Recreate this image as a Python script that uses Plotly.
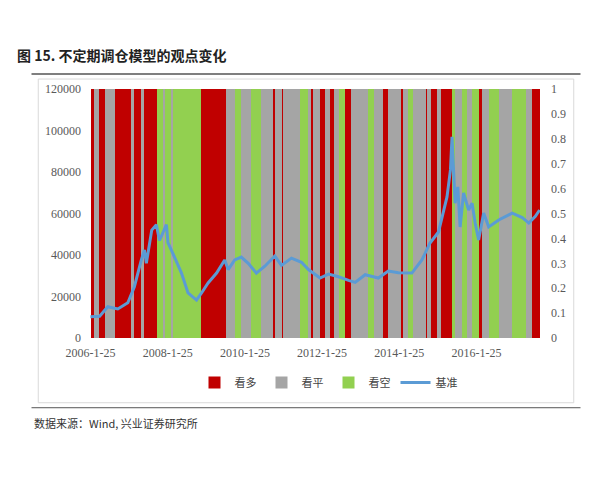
import pandas as pd
import plotly.graph_objects as go

# model view segments: start (decimal year) and view
seg_start = [2006.07, 2006.15, 2006.28, 2006.43, 2006.69, 2007.11, 2007.19, 2007.37, 2007.45,
             2007.78, 2007.94, 2007.99, 2008.15, 2008.20, 2008.93, 2009.58, 2009.81, 2009.97,
             2010.23, 2010.49, 2010.80, 2010.85, 2011.03, 2011.06, 2011.50, 2011.71, 2011.78,
             2011.84, 2012.02, 2012.15, 2012.28, 2012.36, 2012.49, 2012.67, 2012.82, 2013.26,
             2013.40, 2013.65, 2013.76, 2014.12, 2014.17, 2014.30, 2014.43, 2014.75, 2014.77,
             2014.88, 2015.03, 2015.14, 2015.42, 2015.52, 2015.68, 2015.81, 2015.94, 2016.12,
             2016.20, 2016.38, 2016.64, 2016.98, 2017.34, 2017.50]
seg_end = 2017.71
seg_view = ["多", "平", "多", "平", "多", "平", "多", "平", "多",
            "空", "平", "空", "平", "空", "多", "平", "空", "平",
            "空", "平", "多", "平", "多", "平", "空", "平", "多",
            "平", "多", "平", "多", "平", "空", "多", "平", "空",
            "平", "多", "平", "多", "平", "空", "平", "多", "平",
            "多", "平", "多", "空", "平", "空", "平", "空", "多",
            "平", "空", "平", "空", "平", "多"]

# benchmark
bm_year = [2006.06, 2006.30, 2006.51, 2006.77, 2007.03, 2007.20, 2007.38, 2007.46, 2007.51,
           2007.55, 2007.65, 2007.77, 2007.85, 2008.03, 2008.07, 2008.24, 2008.42, 2008.59,
           2008.81, 2008.94, 2009.11, 2009.33, 2009.54, 2009.63, 2009.80, 2009.97, 2010.15,
           2010.36, 2010.58, 2010.84, 2011.01, 2011.27, 2011.53, 2011.71, 2012.01, 2012.23,
           2012.49, 2012.75, 2012.92, 2013.18, 2013.52, 2013.78, 2014.04, 2014.39, 2014.65,
           2014.86, 2015.08, 2015.30, 2015.39, 2015.43, 2015.47, 2015.51, 2015.58, 2015.64,
           2015.73, 2015.86, 2015.95, 2016.03, 2016.12, 2016.25, 2016.38, 2016.64, 2016.99,
           2017.25, 2017.42, 2017.59, 2017.70]
bm_value = [10300, 10500, 15100, 14000, 17000, 24700, 37600, 42400, 36000,
            40000, 52000, 54600, 47000, 54600, 46000, 39000, 31300, 21700,
            18300, 21700, 26500, 31300, 37600, 33000, 37600, 39000, 36000,
            31300, 34600, 39500, 35000, 38500, 36500, 33000, 28900, 30800,
            29500, 27800, 26800, 30500, 28900, 32300, 31500, 31300, 37600,
            45800, 51100, 68000, 81000, 96900, 80000, 65000, 72800, 53500,
            69900, 61700, 65000, 55400, 47200, 60200, 53500, 56900, 60200,
            58000, 55400, 58600, 61700]

tick_labels = ["2006-1-25", "2008-1-25", "2010-1-25", "2012-1-25", "2014-1-25", "2016-1-25"]
right_ticks = [0, 0.1, 0.2, 0.3, 0.4, 0.5, 0.6, 0.7, 0.8, 0.9, 1]


def to_date(y):
    return pd.Timestamp("2006-01-01") + pd.to_timedelta((y - 2006) * 365.25, unit="D")


views = {"多": ("看多", "#C00000"), "平": ("看平", "#A5A5A5"), "空": ("看空", "#92D050")}
ends = seg_start[1:] + [seg_end]

fig = go.Figure()
for key, (name, color) in views.items():
    xs, ws = [], []
    for s, e, v in zip(seg_start, ends, seg_view):
        if v == key:
            xs.append(to_date(s))
            ws.append((to_date(e) - to_date(s)).total_seconds() * 1000)
    fig.add_trace(go.Bar(x=xs, y=[1] * len(xs), width=ws, offset=0, name=name,
                         marker=dict(color=color, line_width=0), yaxis="y"))

fig.add_trace(go.Scatter(x=[to_date(y) for y in bm_year], y=bm_value, name="基准",
                         mode="lines", line=dict(color="#5B9BD5", width=3), yaxis="y2"))

serif = "Liberation Serif, DejaVu Serif, Times New Roman, serif"
tickfont = dict(family=serif, size=12, color="#595959")
fig.update_layout(
    width=600, height=480,
    paper_bgcolor="white", plot_bgcolor="white",
    margin=dict(l=82, r=68, t=81, b=150),
    bargap=0, barmode="overlay",
    font=dict(family=serif, size=12, color="#595959"),
    title=dict(text="<b>图 15. 不定期调仓模型的观点变化</b>", x=0.015, y=0.91, xanchor="left",
               font=dict(family="Noto Sans CJK SC", size=14, color="#222")),
    xaxis=dict(type="date", range=[to_date(2006.05), to_date(seg_end)],
               tickvals=[pd.Timestamp(t) for t in tick_labels], ticktext=tick_labels,
               showgrid=False, ticks="", showline=False, tickfont=tickfont,
               ticklabelstandoff=6),
    yaxis=dict(side="right", range=[0, 1], tickvals=right_ticks,
               ticktext=[str(v) for v in right_ticks], showgrid=False, tickfont=tickfont,
               ticklabelstandoff=10),
    yaxis2=dict(side="left", overlaying="y", range=[0, 120000], dtick=20000,
                showgrid=False, tickformat="d", tickfont=tickfont, ticklabelstandoff=8),
    legend=dict(orientation="h", x=0.53, xanchor="center", y=-0.12, yanchor="top",
                font=dict(family="Noto Sans CJK SC", size=11, color="#444")),
    shapes=[
        dict(type="line", xref="paper", yref="paper", x0=-0.13, x1=1.09, y0=1.06, y1=1.06,
             line=dict(color="#555", width=1.5)),
        dict(type="rect", xref="paper", yref="paper", x0=-0.115, x1=1.075, y0=-0.26, y1=1.04,
             line=dict(color="#d9d9d9", width=1)),
        dict(type="line", xref="paper", yref="paper", x0=-0.13, x1=1.09, y0=-0.28, y1=-0.28,
             line=dict(color="#555", width=1)),
    ],
    annotations=[dict(text="数据来源：Wind, 兴业证券研究所", xref="paper", yref="paper",
                      x=-0.13, y=-0.30, xanchor="left", yanchor="top", showarrow=False,
                      font=dict(family="Noto Sans CJK SC", size=11, color="#333"))],
)
fig.write_html("out.html")
